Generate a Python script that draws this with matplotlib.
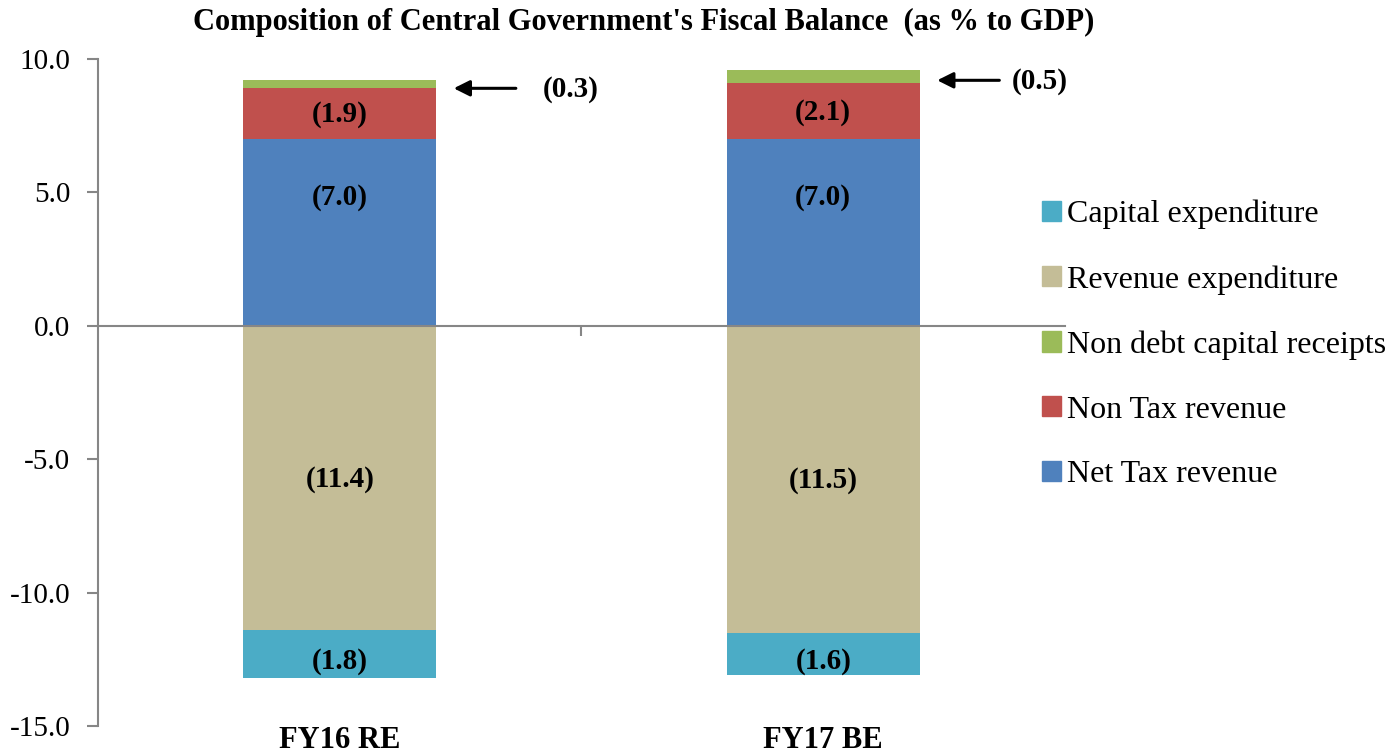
import numpy as np
import matplotlib.pyplot as plt
from matplotlib.patches import Patch

categories = ["FY16 RE", "FY17 BE"]
net_tax = [7.0, 7.0]
non_tax = [1.9, 2.1]
non_debt = [0.3, 0.5]
revenue_exp = [-11.4, -11.5]
capital_exp = [-1.8, -1.6]

colors = {
    "Net Tax revenue": "#4F81BD",
    "Non Tax revenue": "#C0504D",
    "Non debt capital receipts": "#9BBB59",
    "Revenue expenditure": "#C4BD97",
    "Capital expenditure": "#4BACC6",
}

plt.rcParams["font.family"] = ["Liberation Serif", "DejaVu Serif"]

fig = plt.figure(figsize=(14, 7.54), dpi=100)
ax = fig.add_axes([0.07, 0.0371, 0.6907, 0.8847])

x = np.arange(len(categories))
w = 0.40
net = np.array(net_tax)
nt = np.array(non_tax)
nd = np.array(non_debt)
re = np.array(revenue_exp)
ce = np.array(capital_exp)

ax.bar(x, net, w, color=colors["Net Tax revenue"])
ax.bar(x, nt, w, bottom=net, color=colors["Non Tax revenue"])
ax.bar(x, nd, w, bottom=net + nt, color=colors["Non debt capital receipts"])
ax.bar(x, re, w, color=colors["Revenue expenditure"])
ax.bar(x, ce, w, bottom=re, color=colors["Capital expenditure"])

lab = dict(ha="center", va="center", fontsize=21, fontweight="bold")
for i in range(len(categories)):
    ax.text(x[i], net[i] / 2 + 1.3, f"({net[i]:.1f})", **lab)
    ax.text(x[i], net[i] + nt[i] / 2 - 0.05, f"({nt[i]:.1f})", **lab)
    ax.text(x[i], re[i] / 2 - 0.05, f"({-re[i]:.1f})", **lab)
    ax.text(x[i], re[i] + ce[i] / 2 - 0.3, f"({-ce[i]:.1f})", **lab)
    ytop = net[i] + nt[i] + nd[i] / 2 - 0.15
    ax.annotate("", xy=(x[i] + w / 2 + 0.03, ytop), xytext=(x[i] + w / 2 + 0.17, ytop),
                arrowprops=dict(arrowstyle="-|>", color="black", lw=2.2, mutation_scale=24))
    ax.text(x[i] + w / 2 + 0.22 - 0.03 * i, ytop - 0.05, f"({nd[i]:.1f})", ha="left",
            va="center", fontsize=21, fontweight="bold")
    ax.text(x[i], -15.55, categories[i], ha="center", va="center", fontsize=22,
            fontweight="bold", clip_on=False)

ax.set_xlim(-0.5, 1.5)
ax.set_ylim(-15, 10)
ax.set_yticks(np.arange(-15, 10.1, 5))
ax.set_yticklabels([f"{v:.1f}" for v in np.arange(-15, 10.1, 5)], fontsize=21)
ax.set_xticks([0.5])
ax.set_xticklabels([""])

grey = "#868686"
ax.spines["top"].set_visible(False)
ax.spines["right"].set_visible(False)
ax.spines["left"].set_color(grey)
ax.spines["left"].set_linewidth(1.5)
ax.spines["bottom"].set_position(("data", 0))
ax.spines["bottom"].set_color(grey)
ax.spines["bottom"].set_linewidth(1.5)
ax.tick_params(axis="y", color=grey, width=1.5, length=8, pad=12)
ax.tick_params(axis="x", color=grey, width=1.5, length=7, direction="out")

order = ["Capital expenditure", "Revenue expenditure", "Non debt capital receipts",
         "Non Tax revenue", "Net Tax revenue"]
handles = [Patch(color=colors[k]) for k in order]
fig.legend(handles, order, loc="upper left", bbox_to_anchor=(0.735, 0.752),
           frameon=False, fontsize=23, handlelength=0.6, handleheight=0.6,
           handletextpad=0.2, labelspacing=1.12, borderaxespad=0)

fig.text(0.46, 0.97, "Composition of Central Government's Fiscal Balance  (as % to GDP)",
         ha="center", va="center", fontsize=22, fontweight="bold")

fig.savefig("out.png", dpi=100)
